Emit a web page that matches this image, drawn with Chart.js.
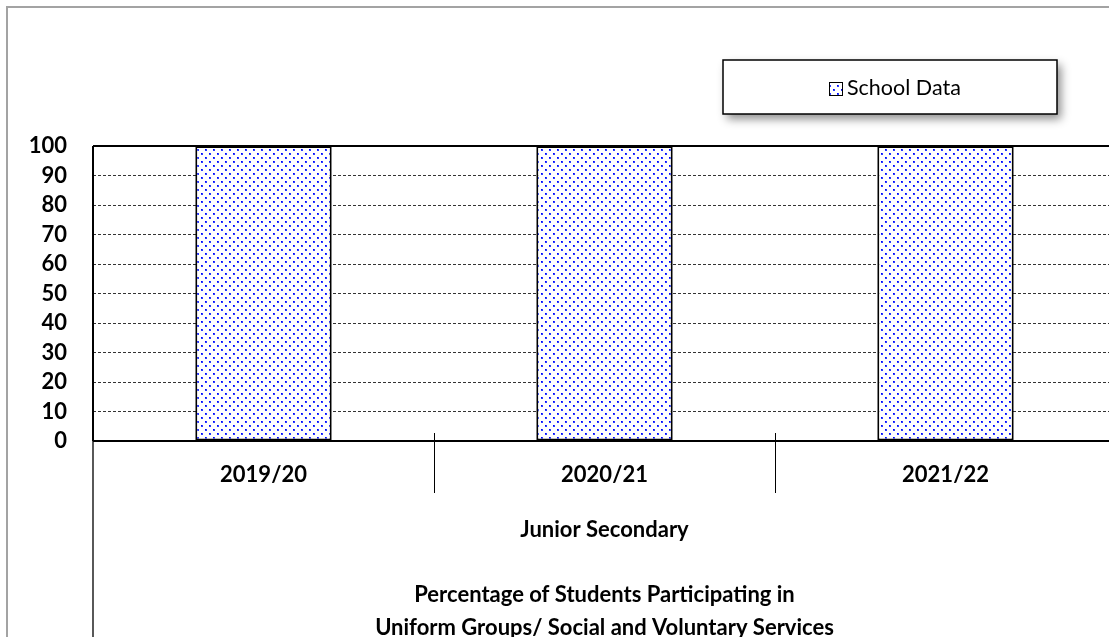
<!DOCTYPE html>
<html>
<head>
<meta charset="utf-8">
<script src="https://cdn.jsdelivr.net/npm/chart.js@4.4.1/dist/chart.umd.min.js"></script>
<style>
  html, body { margin: 0; padding: 0; background: #fff; overflow: hidden; }
  #wrap { position: relative; width: 1125px; height: 637px; }
</style>
</head>
<body>
<div id="wrap"><canvas id="chart" width="1125" height="637"></canvas></div>
<script>
// Chart data
const years = ['2019/20', '2020/21', '2021/22'];
const schoolData = [100, 100, 100];
const seriesName = 'School Data';
const yMin = 0;
const yMax = 100;
const yStep = 10;
const groupLabel = 'Junior Secondary';
const titleLines = [
  'Percentage of Students Participating in',
  'Uniform Groups/ Social and Voluntary Services'
];

const FONT = 'Lato, "Liberation Sans", sans-serif';
const BOLD_SIZE = 22;

// Blue dotted fill used for the bars and the legend swatch
function makeDotPattern(ctx) {
  const tile = document.createElement('canvas');
  tile.width = 8; tile.height = 8;
  const g = tile.getContext('2d');
  g.fillStyle = '#ffffff';
  g.fillRect(0, 0, 8, 8);
  [[1, 1], [5, 5]].forEach(([x, y]) => {
    g.fillStyle = 'rgba(20,40,255,0.9)';
    g.fillRect(x, y, 2, 2);
    g.fillStyle = '#0000ff';
    g.fillRect(x, y, 1, 1);
  });
  return ctx.createPattern(tile, 'repeat');
}

// Frame, category separators, group label, bottom title and legend box
const decorations = {
  id: 'decorations',
  beforeDraw(chart) {
    const c = chart.ctx;
    c.save();
    c.strokeStyle = '#a3a3a3';
    c.lineWidth = 2;
    c.beginPath();
    c.moveTo(7, chart.height + 5);
    c.lineTo(7, 7);
    c.lineTo(chart.width + 5, 7);
    c.stroke();
    c.restore();
  },
  afterDatasetsDraw(chart) {
    const c = chart.ctx;
    const a = chart.chartArea;
    const xs = chart.scales.x;
    c.save();
    c.strokeStyle = '#000';
    // plot frame
    c.lineWidth = 2;
    c.beginPath();
    c.moveTo(a.left, a.top); c.lineTo(a.right, a.top);
    c.moveTo(a.left, a.bottom); c.lineTo(a.right, a.bottom);
    c.moveTo(a.left, a.top); c.lineTo(a.left, a.bottom);
    c.moveTo(a.right, a.top); c.lineTo(a.right, a.bottom);
    c.stroke();
    // axis extension down to the group label area
    c.lineWidth = 1.3;
    c.beginPath();
    c.moveTo(a.left, a.bottom); c.lineTo(a.left, chart.height);
    c.moveTo(a.right, a.bottom); c.lineTo(a.right, chart.height);
    c.stroke();
    // separators between categories
    c.lineWidth = 1;
    c.beginPath();
    for (let i = 0; i < years.length - 1; i++) {
      const x = Math.round((xs.getPixelForValue(i) + xs.getPixelForValue(i + 1)) / 2) + 0.5;
      c.moveTo(x, a.bottom - 8);
      c.lineTo(x, a.bottom + 52);
    }
    c.stroke();

    // group label and title
    const cx = (a.left + a.right) / 2;
    c.fillStyle = '#000';
    c.textAlign = 'center';
    c.textBaseline = 'alphabetic';
    c.font = 'bold ' + BOLD_SIZE + 'px ' + FONT;
    c.fillText(groupLabel, cx, 537);
    c.fillText(titleLines[0], cx, 602);
    c.fillText(titleLines[1], cx, 635);
    c.restore();
  },
  afterDraw(chart) {
    const c = chart.ctx;
    const bx = 723, by = 60, bw = 334, bh = 54;
    c.save();
    c.shadowColor = 'rgba(0,0,0,0.45)';
    c.shadowBlur = 9;
    c.shadowOffsetX = 4;
    c.shadowOffsetY = 5;
    c.fillStyle = '#fff';
    c.fillRect(bx, by, bw, bh);
    c.restore();
    c.save();
    c.strokeStyle = '#000';
    c.lineWidth = 1.5;
    c.strokeRect(bx, by, bw, bh);
    // swatch
    c.fillStyle = chart.data.datasets[0].backgroundColor;
    c.fillRect(829, 82, 13, 13);
    c.lineWidth = 1;
    c.strokeRect(829.5, 82.5, 13, 13);
    c.fillStyle = '#000';
    c.font = '21.5px ' + FONT;
    c.textAlign = 'left';
    c.textBaseline = 'middle';
    c.fillText(chart.data.datasets[0].label, 847, 88);
    c.restore();
  }
};

function draw() {
  const canvas = document.getElementById('chart');
  const ctx = canvas.getContext('2d');
  const pattern = makeDotPattern(ctx);

  new Chart(ctx, {
    type: 'bar',
    data: {
      labels: years,
      datasets: [{
        label: seriesName,
        data: schoolData,
        backgroundColor: pattern,
        borderColor: '#000',
        borderWidth: 2,
        borderSkipped: false,
        barPercentage: 0.4,
        categoryPercentage: 1
      }]
    },
    options: {
      responsive: false,
      animation: false,
      layout: { padding: { top: 146, right: 9, bottom: 0, left: 0 } },
      plugins: {
        legend: { display: false },
        tooltip: { enabled: false },
        title: { display: false }
      },
      scales: {
        x: {
          grid: { display: false, drawTicks: false },
          border: { display: false },
          ticks: {
            color: '#000',
            font: { family: FONT, size: BOLD_SIZE, weight: 'bold' },
            padding: 21,
            maxRotation: 0,
            autoSkip: false
          },
          afterFit(scale) { scale.height = 196; }
        },
        y: {
          min: yMin,
          max: yMax,
          grid: { color: '#333333', lineWidth: 1, drawTicks: false },
          border: { display: false, dash: [3, 2] },
          ticks: {
            stepSize: yStep,
            color: '#000',
            font: { family: FONT, size: BOLD_SIZE, weight: 'bold' },
            padding: 26
          },
          afterFit(scale) { scale.width = 93; }
        }
      }
    },
    plugins: [decorations]
  });
}

Promise.all([
  document.fonts.load('bold 22px Lato'),
  document.fonts.load('21.5px Lato')
]).then(draw, draw);
</script>
</body>
</html>
